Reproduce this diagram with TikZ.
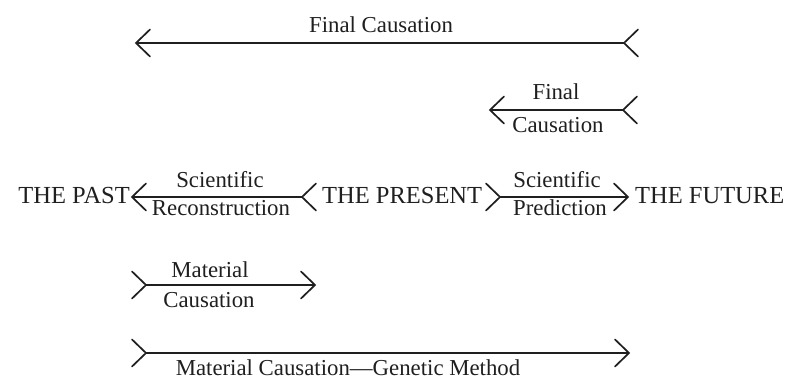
\documentclass[tikz,border=0pt]{standalone}
\usepackage{fontspec}
\setmainfont{Liberation Serif}
\newcommand\myLbarb[1]{\draw[barbline] (#1) ++(14,-13.5) -- (#1) -- ++(14,13.5);}
\newcommand\myRbarb[1]{\draw[barbline] (#1) ++(-14,-13.5) -- (#1) -- ++(-14,13.5);}
\begin{document}
\begin{tikzpicture}[x=1pt,y=-1pt,
  conn/.style={line width=1.7pt, draw=black!88},
  barbline/.style={line width=1.7pt, line cap=round, line join=miter, draw=black!88},
  capsT/.style={font=\fontsize{24.5}{28}\selectfont, inner sep=0pt, text=black!88},
  lab/.style={font=\fontsize{22.8}{26}\selectfont, inner sep=0pt, anchor=base, text=black!88}]
\useasboundingbox (0,0) rectangle (789,379);

% row 1
\coordinate (a1) at (136,43);
\coordinate (b1) at (624,43);
\draw[conn] (a1) -- (b1);
\myLbarb{a1}
\myLbarb{b1}
\node[lab] (l1) at (381,33) {Final Causation};

% row 2
\coordinate (a2) at (490,110);
\coordinate (b2) at (623,110);
\draw[conn] (a2) -- (b2);
\myLbarb{a2}
\myLbarb{b2}
\node[lab] (l2a) at (556,100) {Final};
\node[lab] (l2b) at (558,133) {Causation};

% row 3
\node[capsT, anchor=base east] (past) at (130,204) {THE PAST};
\node[capsT, anchor=base west] (present) at (322,204) {THE PRESENT};
\node[capsT, anchor=base west] (future) at (635,204) {THE FUTURE};
\coordinate (a3) at (132,197);
\coordinate (b3) at (302,197);
\draw[conn] (a3) -- (b3);
\myLbarb{a3}
\myLbarb{b3}
\node[lab] (l3a) at (220,188) {Scientific};
\node[lab] (l3b) at (221,216) {Reconstruction};
\coordinate (c3) at (500,197);
\coordinate (d3) at (628,197);
\draw[conn] (c3) -- (d3);
\myRbarb{c3}
\myRbarb{d3}
\node[lab] (l3c) at (557,188) {Scientific};
\node[lab] (l3d) at (560,216) {Prediction};

% row 4
\coordinate (a4) at (146,285);
\coordinate (b4) at (315,285);
\draw[conn] (a4) -- (b4);
\myRbarb{a4}
\myRbarb{b4}
\node[lab] (l4a) at (210,277) {Material};
\node[lab] (l4b) at (209,307) {Causation};

% row 5
\coordinate (a5) at (146,353);
\coordinate (b5) at (629,353);
\draw[conn] (a5) -- (b5);
\myRbarb{a5}
\myRbarb{b5}
\node[lab] (l5) at (348,375) {Material Causation---Genetic Method};
\end{tikzpicture}
\end{document}
